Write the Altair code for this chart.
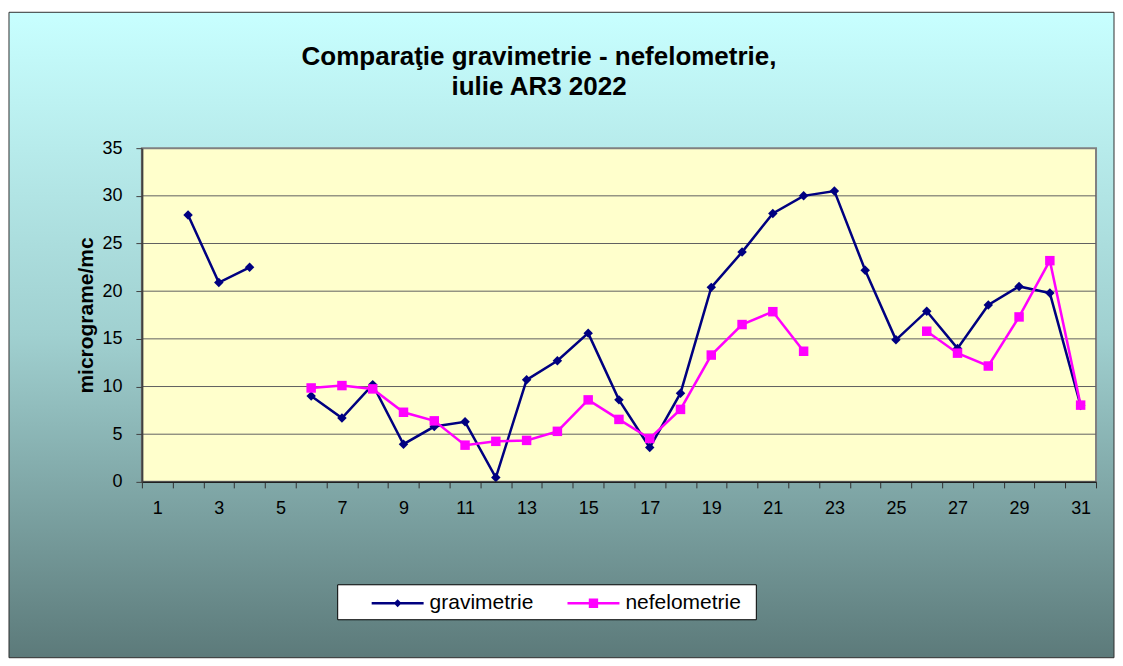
import altair as alt
import pandas as pd

days = list(range(1, 32))
gravimetrie = [None, 28.0, 20.9, 22.5, None, 9.0, 6.7, 10.2, 3.95, 5.8, 6.3, 0.45,
               10.7, 12.7, 15.6, 8.6, 3.6, 9.3, 20.4, 24.1, 28.15, 30.0, 30.5, 22.2,
               14.9, 17.9, 14.0, 18.55, 20.5, 19.8, 8.0]
nefelometrie = [None, None, None, None, None, 9.85, 10.1, 9.75, 7.3, 6.4, 3.85, 4.25,
                4.35, 5.3, 8.6, 6.55, 4.55, 7.6, 13.3, 16.5, 17.85, 13.7, None, None,
                None, 15.8, 13.5, 12.15, 17.3, 23.2, 8.05]
series_names = ["gravimetrie", "nefelometrie"]
series_colors = ["#000080", "#FF00FF"]
grid_values = [5, 10, 15, 20, 25, 30]
y_ticks = [0, 5, 10, 15, 20, 25, 30, 35]
title_lines = ["Comparaţie gravimetrie - nefelometrie,", "iulie AR3 2022"]
y_title = "micrograme/mc"

rows = []
for name, vals in zip(series_names, [gravimetrie, nefelometrie]):
    for d, v in zip(days, vals):
        rows.append({"zi": d, "serie": name, "valoare": v})
df = pd.DataFrame(rows)

W, H = 955, 334
FONT = "Liberation Sans"
one = alt.Data(values=[{"k": 1}])

yscale = alt.Scale(domain=[0, 35], nice=False)
xscale = alt.Scale(type="band", paddingInner=0, paddingOuter=0)

bg = alt.Chart(one).mark_rect(
    fill=alt.Gradient(
        gradient="linear",
        stops=[alt.GradientStop(color="#C8FFFF", offset=0),
               alt.GradientStop(color="#A0D0D0", offset=0.5),
               alt.GradientStop(color="#5C7A7A", offset=1)],
        x1=0, x2=0, y1=0, y2=1),
    stroke="#303030", strokeWidth=1,
).encode(x=alt.value(-133), x2=alt.value(973), y=alt.value(-136), y2=alt.value(510))

plotbg = alt.Chart(one).mark_rect(fill="#FFFFCC", stroke="#808080", strokeWidth=2).encode(
    x=alt.value(0), x2=alt.value(W), y=alt.value(0), y2=alt.value(H))

cscale = alt.Scale(domain=series_names, range=series_colors)

xenc = alt.X("zi:O", scale=xscale, sort="ascending",
             axis=alt.Axis(title=None, labelExpr="datum.value % 2 == 1 ? datum.label : ''",
                           tickBand="extent", labelAngle=0, labelFontSize=18, labelFont=FONT,
                           labelColor="black", labelPadding=12, tickSize=6, tickColor="#303030",
                           domainColor="#202020", domainWidth=1.5, grid=False, zindex=1))
yaxis = alt.Axis(title=y_title, values=y_ticks,
                 labelFontSize=18, labelFont=FONT, labelColor="black",
                 labelPadding=14, tickSize=6, tickColor="#404040",
                 domainColor="#404040", domainWidth=2, grid=False, zindex=1,
                 titleFont=FONT, titleFontSize=21, titleFontWeight="bold",
                 titleColor="black", titlePadding=5)
yenc = alt.Y("valoare:Q", scale=yscale, axis=yaxis)

grid = alt.Chart(pd.DataFrame({"valoare": grid_values})).mark_rule(color="#606060", strokeWidth=1).encode(
    y=yenc)

legbox = alt.Chart(one).mark_rect(fill="white", stroke="black", strokeWidth=1).encode(
    x=alt.value(196), x2=alt.value(615), y=alt.value(437), y2=alt.value(472))

lines = alt.Chart(df).mark_line(strokeWidth=2.5, invalid="break-paths-show-domains").encode(
    x=xenc, y=yenc, color=alt.Color("serie:N", scale=cscale, legend=None),
    detail="serie:N")

diamond = "M0,-1L1,0L0,1L-1,0Z"
points = alt.Chart(df).mark_point(filled=True, opacity=1, size=90).encode(
    x=xenc, y=yenc,
    color=alt.Color("serie:N", scale=cscale, legend=None),
    shape=alt.Shape("serie:N", scale=alt.Scale(domain=series_names, range=[diamond, "square"]), legend=None),
)

# legend symbol: a thin filled bar (the line) plus the series marker, all filled
leg_paths = ["M-1,-0.045L1,-0.045L1,0.045L-1,0.045ZM0,-0.15L0.15,0L0,0.15L-0.15,0Z",
             "M-1,-0.045L1,-0.045L1,0.045L-1,0.045ZM-0.18,-0.18L0.18,-0.18L0.18,0.18L-0.18,0.18Z"]
leg_x = [229, 425]


def legend_layer(i):
    c = series_colors[i]
    lg = alt.Legend(title=None, orient="none", legendX=leg_x[i], legendY=428.5,
                    direction="horizontal", padding=0, labelFontSize=21, labelFont=FONT,
                    labelColor="black", labelOffset=5,
                    symbolSize=2704, symbolOpacity=1,
                    symbolFillColor=c, symbolStrokeColor=c)
    return alt.Chart(df).transform_filter("false").mark_point(
        filled=True, opacity=1, color=c, fill=c
    ).encode(
        shape=alt.Shape("serie:N", scale=alt.Scale(domain=[series_names[i]], range=[leg_paths[i]]),
                        legend=lg))


chart = alt.layer(bg, plotbg, grid, legbox, lines, points, legend_layer(0), legend_layer(1)).resolve_scale(
    shape="independent"
).properties(
    width=W, height=H,
    padding={"left": 0, "top": 3, "right": 0, "bottom": 0},
    title=alt.TitleParams(text=title_lines, fontSize=26, font=FONT, fontWeight="bold",
                          color="black", anchor="middle", dx=-80, offset=-114, frame="group",
                          baseline="bottom", lineHeight=30),
).configure_view(stroke=None)

chart.save("out.html", embed_options={"renderer": "svg", "actions": False})
